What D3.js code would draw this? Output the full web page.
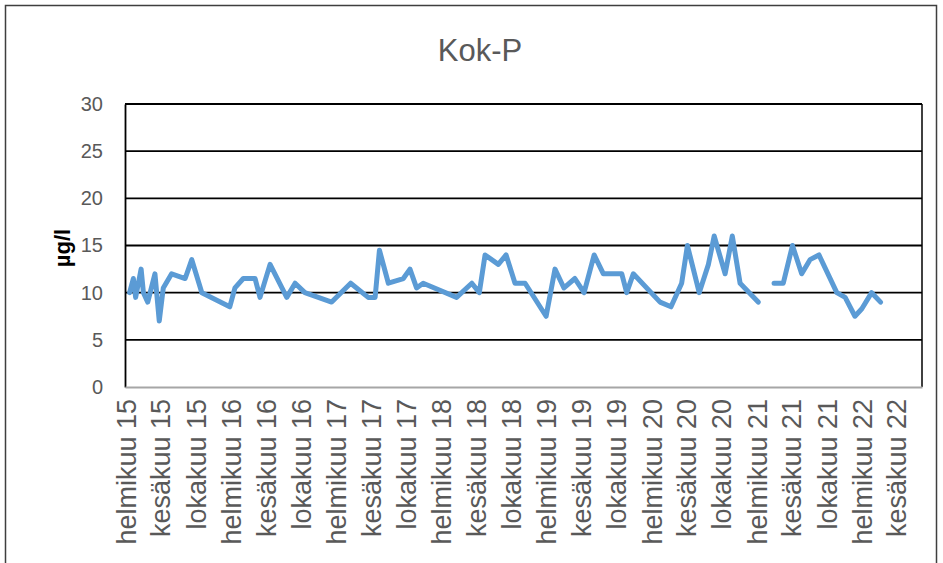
<!DOCTYPE html>
<html>
<head>
<meta charset="utf-8">
<script src="https://cdn.jsdelivr.net/npm/d3@7"></script>
<style>
  html, body { margin: 0; padding: 0; background: #fff; }
  svg { display: block; }
</style>
</head>
<body>
<svg id="chart" width="943" height="563"></svg>
<script>
const title = "Kok-P";
const yTitle = "µg/l";
const yTicks = [0, 5, 10, 15, 20, 25, 30];
const tickLabels = [
  "helmikuu 15","kesäkuu 15","lokakuu 15",
  "helmikuu 16","kesäkuu 16","lokakuu 16",
  "helmikuu 17","kesäkuu 17","lokakuu 17",
  "helmikuu 18","kesäkuu 18","lokakuu 18",
  "helmikuu 19","kesäkuu 19","lokakuu 19",
  "helmikuu 20","kesäkuu 20","lokakuu 20",
  "helmikuu 21","kesäkuu 21","lokakuu 21",
  "helmikuu 22","kesäkuu 22"
];
const axisStart = "2015-02-01";
const axisEnd = "2022-09-01";
const dates = [
  "2015-02-17","2015-03-02","2015-03-10","2015-03-29","2015-04-06","2015-04-21","2015-05-16","2015-05-31",
  "2015-06-14","2015-07-13","2015-08-29","2015-09-21","2015-10-26","2016-01-31","2016-02-18","2016-03-18",
  "2016-04-28","2016-05-15","2016-06-19","2016-08-16","2016-09-14","2016-10-18","2017-01-19","2017-03-26",
  "2017-05-26","2017-06-19","2017-07-04","2017-08-04","2017-09-25","2017-10-18","2017-11-10","2017-12-03",
  "2018-03-29","2018-05-21","2018-06-16","2018-07-06","2018-08-21","2018-09-17","2018-10-18","2018-11-22",
  "2019-02-03","2019-03-06","2019-04-06","2019-05-14","2019-06-15","2019-07-20","2019-08-21","2019-10-24",
  "2019-11-10","2019-12-03","2020-03-05","2020-04-12","2020-05-19","2020-06-08","2020-07-19","2020-08-20",
  "2020-09-09","2020-10-17","2020-11-11","2020-12-08","2021-02-09","2021-03-08","2021-04-05","2021-05-07",
  "2021-06-08","2021-07-10","2021-08-08","2021-09-08","2021-11-09","2021-12-08","2022-01-11","2022-02-04",
  "2022-03-10","2022-04-10"
];
const values = [
  10, 11.5, 9.5, 12.5, 10, 9, 12, 7,
  10.5, 12, 11.5, 13.5, 10, 8.5, 10.5, 11.5,
  11.5, 9.5, 13, 9.5, 11, 10, 9, 11,
  9.5, 9.5, 14.5, 11, 11.5, 12.5, 10.5, 11,
  9.5, 11, 10, 14, 13, 14, 11, 11,
  7.5, 12.5, 10.5, 11.5, 10, 14, 12, 12,
  10, 12, 9, 8.5, 11, 15, 10, 13,
  16, 12, 16, 11, 9, null, 11, 11,
  15, 12, 13.5, 14, 10, 9.5, 7.5, 8.3,
  10, 9
];

const parse = d3.utcParse("%Y-%m-%d");
const data = dates.map((d, i) => ({ date: parse(d), v: values[i] }));

const svg = d3.select("#chart");
const font = "'Liberation Sans', Arial, sans-serif";
const textColor = "#595959";

// outer chart frame
svg.append("rect")
  .attr("x", 5.5).attr("y", 5.5)
  .attr("width", 931).attr("height", 600)
  .attr("fill", "#fff").attr("stroke", "#3f3f3f").attr("stroke-width", 1.5);

const plot = { left: 125, right: 922, top: 104, bottom: 387 };

const x = d3.scaleUtc()
  .domain([parse(axisStart), parse(axisEnd)])
  .range([plot.left, plot.right]);
const y = d3.scaleLinear()
  .domain([0, 30])
  .range([plot.bottom, plot.top]);

// title
svg.append("text")
  .attr("x", 480).attr("y", 61)
  .attr("text-anchor", "middle")
  .attr("font-family", font).attr("font-size", 31)
  .attr("fill", textColor)
  .text(title);

// gridlines
svg.append("g")
  .selectAll("line")
  .data(yTicks.filter(t => t > 0))
  .join("line")
  .attr("x1", plot.left).attr("x2", plot.right)
  .attr("y1", d => y(d)).attr("y2", d => y(d))
  .attr("stroke", "#000").attr("stroke-width", 1.8);

// right border of plot
svg.append("line")
  .attr("x1", plot.right).attr("x2", plot.right)
  .attr("y1", plot.top).attr("y2", plot.bottom)
  .attr("stroke", "#000").attr("stroke-width", 1.5);

// y axis
const yAxis = svg.append("g")
  .attr("transform", `translate(${plot.left},0)`)
  .call(d3.axisLeft(y).tickValues(yTicks).tickSize(0).tickPadding(22));
yAxis.select(".domain").attr("stroke", "#000").attr("stroke-width", 1.8);
yAxis.selectAll("text")
  .attr("font-family", font).attr("font-size", 20)
  .attr("fill", textColor);

// x axis
const tickDates = tickLabels.map((_, i) => d3.utcMonth.offset(parse(axisStart), 4 * i));
const xAxis = svg.append("g")
  .attr("transform", `translate(0,${plot.bottom})`)
  .call(d3.axisBottom(x).tickValues(tickDates).tickSize(0)
    .tickFormat((d, i) => tickLabels[i]));
xAxis.select(".domain").attr("stroke", "#a6a6a6").attr("stroke-width", 2);
xAxis.selectAll("text")
  .attr("font-family", font).attr("font-size", 27)
  .attr("fill", textColor)
  .attr("text-anchor", "end")
  .attr("dy", "0.35em")
  .attr("transform", "translate(1,12) rotate(-90)")
  .attr("x", 0).attr("y", 0);

// y title
svg.append("text")
  .attr("transform", "translate(70,248) rotate(-90)")
  .attr("text-anchor", "middle")
  .attr("font-family", font).attr("font-size", 22).attr("font-weight", "bold")
  .attr("fill", "#000")
  .text(yTitle);

// line
const line = d3.line()
  .defined(d => d.v != null)
  .x(d => x(d.date))
  .y(d => y(d.v));
svg.append("path")
  .datum(data)
  .attr("fill", "none")
  .attr("stroke", "#5b9bd5")
  .attr("stroke-width", 5)
  .attr("stroke-linejoin", "round")
  .attr("stroke-linecap", "round")
  .attr("d", line);
</script>
</body>
</html>
